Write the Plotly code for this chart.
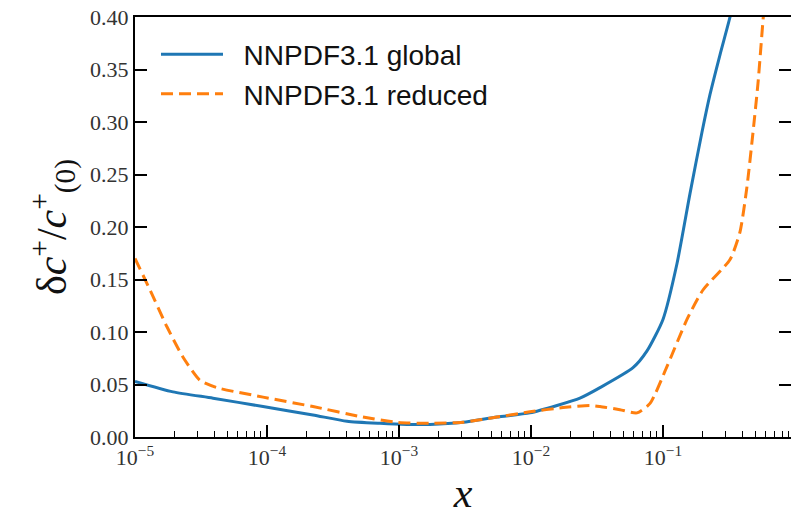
import numpy as np
import plotly.graph_objects as go

# log10(x) positions and values
global_logx = [-5.0, -4.712, -4.409, -4.030, -3.652, -3.394, -3.144, -2.939, -2.765,
               -2.515, -2.258, -2.008, -1.803, -1.629, -1.477, -1.227, -1.121, -1.0,
               -0.894, -0.795, -0.705, -0.644, -0.568, -0.492, -0.45]
global_vals = [0.053, 0.043, 0.037, 0.029, 0.021, 0.015, 0.013, 0.012, 0.012,
               0.014, 0.019, 0.023, 0.030, 0.037, 0.047, 0.066, 0.082, 0.112,
               0.165, 0.232, 0.290, 0.326, 0.364, 0.400, 0.425]

reduced_logx = [-5.0, -4.886, -4.758, -4.636, -4.508, -4.379, -4.030, -3.652, -3.273,
                -3.015, -2.765, -2.515, -2.258, -2.008, -1.758, -1.553, -1.477, -1.326,
                -1.197, -1.098, -0.970, -0.818, -0.697, -0.492, -0.417, -0.364, -0.318,
                -0.280, -0.242, -0.22]
reduced_vals = [0.170, 0.140, 0.105, 0.076, 0.054, 0.047, 0.038, 0.029, 0.019,
                0.014, 0.013, 0.014, 0.019, 0.024, 0.028, 0.030, 0.029, 0.026,
                0.023, 0.032, 0.067, 0.112, 0.140, 0.169, 0.195, 0.238, 0.290,
                0.337, 0.397, 0.43]

x_tickvals = [1e-5, 1e-4, 1e-3, 1e-2, 1e-1]
x_ticktext = ["10<sup>−5</sup>", "10<sup>−4</sup>", "10<sup>−3</sup>",
              "10<sup>−2</sup>", "10<sup>−1</sup>"]
y_tickvals = [0.0, 0.05, 0.10, 0.15, 0.20, 0.25, 0.30, 0.35, 0.40]

serif = "Liberation Serif"

fig = go.Figure()
fig.add_trace(go.Scatter(
    x=10 ** np.array(global_logx), y=global_vals, mode="lines",
    name="\u00a0\u00a0NNPDF3.1 global",
    line=dict(color="#1f77b4", width=3, shape="spline", smoothing=0.6),
))
fig.add_trace(go.Scatter(
    x=10 ** np.array(reduced_logx), y=reduced_vals, mode="lines",
    name="\u00a0\u00a0NNPDF3.1 reduced",
    line=dict(color="#ff7f0e", width=3, dash="12px,6px", shape="spline", smoothing=0.6),
))
# invisible trace to carry right-side inward ticks
fig.add_trace(go.Scatter(x=[1e-5], y=[0], yaxis="y2", mode="lines",
                         showlegend=False, hoverinfo="skip",
                         line=dict(color="rgba(0,0,0,0)")))

fig.update_layout(
    width=791, height=519,
    margin=dict(l=135, r=0, t=17, b=82),
    paper_bgcolor="white", plot_bgcolor="white",
    showlegend=True,
    legend=dict(x=0.032, y=0.97, xanchor="left", yanchor="top",
                font=dict(family="Liberation Sans", size=28, color="#111"),
                bgcolor="rgba(0,0,0,0)", itemwidth=62, tracegroupgap=0),
    xaxis=dict(
        type="log", range=[-5, -0.03],
        showgrid=False, zeroline=False,
        showline=True, linecolor="black", linewidth=2, mirror=True,
        ticks="inside", ticklen=12, tickwidth=1.8, tickcolor="black",
        tickvals=x_tickvals, ticktext=x_ticktext,
        tickfont=dict(family=serif, size=22, color="#333"),
        minor=dict(ticks="inside", ticklen=6, tickwidth=1.2, tickcolor="black",
                   dtick="D1", showgrid=False),
        title=dict(text="<i>x</i>", font=dict(family=serif, size=42, color="#111"),
                   standoff=8),
    ),
    yaxis=dict(
        range=[0, 0.40],
        showgrid=False, zeroline=False,
        showline=True, linecolor="black", linewidth=2,
        ticks="inside", ticklen=12, tickwidth=1.8, tickcolor="black",
        tickvals=y_tickvals, tickformat=".2f",
        tickfont=dict(family=serif, size=22, color="#333"),
        title=dict(text="δ<i>c</i><sup>+</sup>/<i>c</i><sup>+</sup><sub>(0)</sub>",
                   font=dict(family=serif, size=42, color="#111"), standoff=10),
    ),
    yaxis2=dict(
        overlaying="y", side="right", range=[0, 0.40],
        showgrid=False, zeroline=False, showline=False,
        ticks="inside", ticklen=12, tickwidth=1.8, tickcolor="black",
        tickvals=y_tickvals, showticklabels=False,
    ),
)

fig.write_html("out.html")
